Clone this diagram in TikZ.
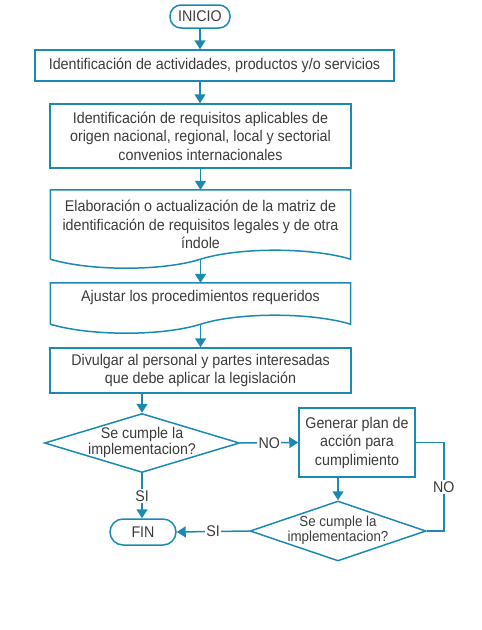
\documentclass[tikz,border=0pt]{standalone}
\usepackage{fontspec}
\setmainfont{Liberation Sans}[FakeStretch=0.92]
\usetikzlibrary{shapes.geometric,arrows.meta,calc}
\definecolor{flowblue}{HTML}{1B8AB3}
\definecolor{flowtext}{HTML}{3C3C3C}

\begin{document}
\begin{tikzpicture}[
    x=1pt, y=-1pt,
    every node/.style={inner sep=2pt, text=flowtext},
    base/.style={font=\fontsize{15.5}{18.5}\selectfont, align=center},
    terminal/.style={base, draw=flowblue, line width=1.5pt, rounded corners=11pt, minimum width=60pt, minimum height=23pt},
    process/.style={base, draw=flowblue, line width=1.5pt},
    document/.style={base, minimum width=300pt},
    decision/.style={diamond, draw=flowblue, line width=1.5pt, inner sep=0pt},
    question/.style={font=\fontsize{15.5}{16}\selectfont, align=center},
    line/.style={draw=flowblue, line width=1.5pt},
    arrow/.style={line, -{Triangle[length=9pt,width=11pt]}},
    answer/.style={base, fill=white, inner sep=1.5pt}
]
\useasboundingbox (0,0) rectangle (482,630);

% Start
\node[terminal] (inicio) at (200,16.5) {INICIO};

% Steps
\node[process, minimum width=359pt, minimum height=31pt] (b1) at (214.5,65.5)
    {Identificación de actividades, productos y/o servicios};
\node[process, minimum width=301pt, minimum height=64pt] (b2) at (200.5,136)
    {Identificación de requisitos aplicables de\\origen nacional, regional, local y sectorial\\convenios internacionales};
\node[document, minimum height=69pt] (b3) at (200.5,224.5)
    {Elaboración o actualización de la matriz de\\identificación de requisitos legales y de otra\\índole};
\node[document, minimum height=41pt, text depth=16pt] (b4) at (200.5,303.5)
    {Ajustar los procedimientos requeridos};
\node[process, minimum width=301pt, minimum height=45pt] (b5) at (200.5,370.5)
    {Divulgar al personal y partes interesadas\\que debe aplicar la legislación};

% Document outlines
\draw[line] (b3.south west) -- (b3.north west) -- (b3.north east) -- (b3.south east)
    .. controls +(-40,-12) and +(38,-12) .. (b3.south)
    .. controls +(-38,12) and +(40,12) .. (b3.south west);
\draw[line] (b4.south west) -- (b4.north west) -- (b4.north east) -- (b4.south east)
    .. controls +(-40,-12) and +(38,-12) .. (b4.south)
    .. controls +(-38,12) and +(40,12) .. (b4.south west);

% Decisions
\node[decision, minimum width=195pt, minimum height=59pt] (q1) at (142,443) {};
\node[question] (q1t) at (142,442) {Se cumple la\\implementacion?};
\node[process, minimum width=116pt, minimum height=69pt] (act) at (357,442.5)
    {Generar plan de\\acción para\\cumplimiento};
\node[decision, minimum width=176pt, minimum height=60pt] (q2) at (338,531) {};
\node[question, font=\fontsize{14.5}{14.5}\selectfont] (q2t) at (338,530) {Se cumple la\\implementacion?};

% End
\node[terminal, rounded corners=13pt, minimum width=66pt, minimum height=26pt] (fin) at (143,532) {FIN};
\coordinate (loop) at ($(act.east)+(28,0)$);

% Connectors
\draw[arrow] (inicio.south) -- (inicio.south |- b1.north);
\draw[arrow] (inicio.south |- b1.south) -- (inicio.south |- b2.north);
\draw[arrow] (b2.south) -- (b3.north);
\draw[arrow] (b3.south) -- (b4.north);
\draw[arrow] (b4.south) -- (b5.north);
\draw[arrow] (b5.south -| q1.north) -- (q1.north);
\draw[arrow] (q1.east) -- node[answer] {NO} (act.west);
\draw[arrow] (act.south -| q2.north) -- (q2.north);
\draw[line] (q2.east) -| node[answer, pos=0.75] {NO} (loop) -- (act.east);
\draw[arrow] (q2.west) -- node[answer] {SI} (fin.east);
\draw[arrow] (q1.south) -- node[answer] {SI} (q1.south |- fin.north);

\end{tikzpicture}
\end{document}
